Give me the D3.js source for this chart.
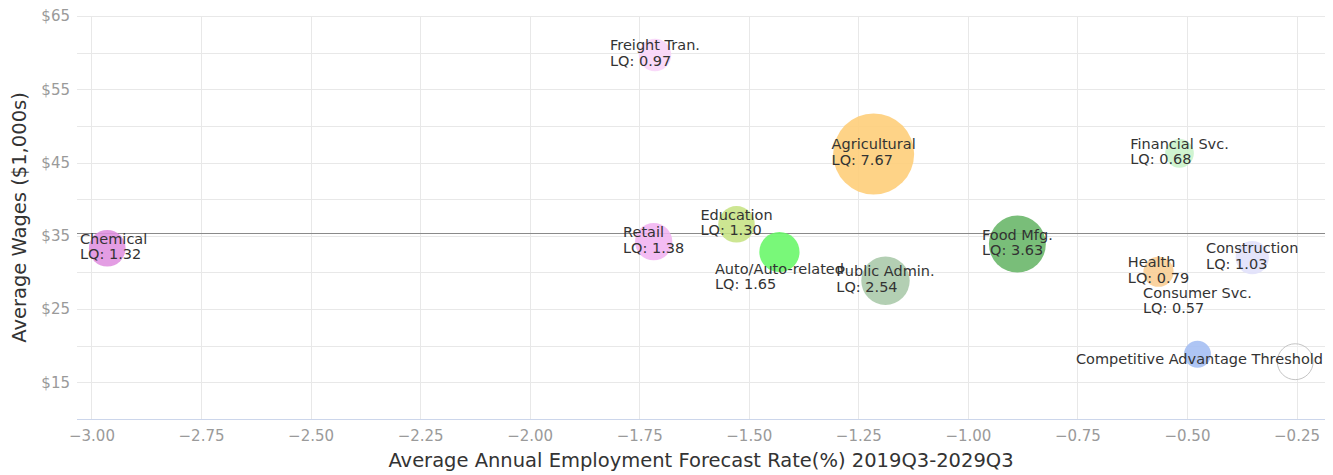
<!DOCTYPE html>
<html><head><meta charset="utf-8">
<script src="https://cdn.jsdelivr.net/npm/d3@7"></script>
<style>body{margin:0;background:#fff;overflow:hidden;} svg{display:block;}</style>
</head><body><svg id="c" width="1333" height="475"></svg>
<script>
// ---- data ----
const industries = ["Freight Tran.", "Chemical", "Retail", "Education", "Auto/Auto-related", "Public Admin.", "Food Mfg.", "Agricultural", "Financial Svc.", "Health", "Construction", "Consumer Svc."];
const growthRates = [-1.714, -2.964, -1.717, -1.528, -1.430, -1.188, -0.887, -1.215, -0.517, -0.565, -0.351, -0.476];
const avgWages = [59.68, 33.30, 34.20, 36.57, 32.79, 28.88, 33.88, 46.17, 46.26, 30.10, 32.01, 18.83];
const lqValues = [0.97, 1.32, 1.38, 1.30, 1.65, 2.54, 3.63, 7.67, 0.68, 0.79, 1.03, 0.57];
const bubbleColors = ["#f8d4f8", "#df8fdf", "#f1b3f1", "#c6e283", "#66f766", "#a8c8a8", "#66b566", "#fecd76", "#c9f3c9", "#f9cd93", "#e0e0fb", "#a3bdf2"];
const thresholdName = "Competitive Advantage Threshold";
const thresholdGrowth = -0.253;
const thresholdWage = 17.82;
const thresholdLQ = 1.25;
const averageWage = 35.44;
const xTickValues = [-3.00, -2.75, -2.50, -2.25, -2.00, -1.75, -1.50, -1.25, -1.00, -0.75, -0.50, -0.25];
const yTickValues = [15, 25, 35, 45, 55, 65];
const yGridValues = [15, 20, 25, 30, 35, 40, 45, 50, 55, 60, 65];
const xTitle = "Average Annual Employment Forecast Rate(%) 2019Q3-2029Q3";
const yTitle = "Average Wages ($1,000s)";

// ---- layout ----
const plot = {left: 77, right: 1325, top: 16, bottom: 419};
const labelShift = {"Auto/Auto-related": 26, "Consumer Svc.": -52};
const svg = d3.select("#c");
const x = d3.scaleLinear().domain([-3.033, -0.185]).range([plot.left, plot.right]);
const y = d3.scaleLinear().domain([10, 65]).range([plot.bottom, plot.top]);
const area = d3.scaleLinear().domain([0.57, 7.67]).range([13.5 * 13.5, 40.5 * 40.5]);
const rad = z => Math.sqrt(area(z));
const FONT = "'DejaVu Sans', sans-serif";

// grid
svg.append("g").selectAll("line").data(yGridValues).join("line")
  .attr("x1", plot.left).attr("x2", plot.right)
  .attr("y1", d => Math.round(y(d)) + 0.5).attr("y2", d => Math.round(y(d)) + 0.5)
  .attr("stroke", "#e8e8e8").attr("stroke-width", 1);
svg.append("g").selectAll("line").data(xTickValues).join("line")
  .attr("x1", d => Math.round(x(d)) + 0.5).attr("x2", d => Math.round(x(d)) + 0.5)
  .attr("y1", plot.top).attr("y2", plot.bottom)
  .attr("stroke", "#e8e8e8").attr("stroke-width", 1);

// x axis
const xAxis = d3.axisBottom(x).tickValues(xTickValues).tickFormat(d3.format(".2f")).tickSize(0).tickPadding(8);
const gx = svg.append("g").attr("transform", `translate(0,${plot.bottom})`).call(xAxis);
gx.select(".domain").attr("stroke", "#ccd6eb").attr("d", `M${plot.left},0.5H${plot.right}`);
gx.selectAll("text").attr("font-family", FONT).attr("font-size", 15).attr("fill", "#9a9a9a").attr("dy", "0.95em");

// y axis
const yAxis = d3.axisLeft(y).tickValues(yTickValues).tickFormat(d => "$" + d).tickSize(0).tickPadding(7);
const gy = svg.append("g").attr("transform", `translate(${plot.left},0)`).call(yAxis);
gy.select(".domain").remove();
gy.selectAll("text").attr("font-family", FONT).attr("font-size", 15).attr("fill", "#9a9a9a");

// average wage line
svg.append("line")
  .attr("x1", plot.left).attr("x2", plot.right)
  .attr("y1", Math.round(y(averageWage)) + 0.5).attr("y2", Math.round(y(averageWage)) + 0.5)
  .attr("stroke", "#8a8a8a").attr("stroke-width", 1);

// axis titles
svg.append("text").attr("x", (plot.left + plot.right) / 2).attr("y", 467)
  .attr("text-anchor", "middle").attr("font-family", FONT).attr("font-size", 19.5)
  .attr("fill", "#333").text(xTitle);
svg.append("text").attr("transform", `translate(26,${(plot.top + plot.bottom) / 2}) rotate(-90)`)
  .attr("text-anchor", "middle").attr("font-family", FONT).attr("font-size", 19.5)
  .attr("fill", "#333").text(yTitle);

// bubbles
const points = industries.map((name, i) => ({name, gx: growthRates[i], wy: avgWages[i], lq: lqValues[i], color: bubbleColors[i]}));
const bubbles = svg.append("g");
bubbles.selectAll("circle").data(points).join("circle")
  .attr("cx", d => x(d.gx)).attr("cy", d => y(d.wy)).attr("r", d => rad(d.lq))
  .attr("fill", d => d.color).attr("fill-opacity", 0.88);
bubbles.append("circle")
  .attr("cx", x(thresholdGrowth)).attr("cy", y(thresholdWage)).attr("r", rad(thresholdLQ))
  .attr("fill", "#fff").attr("fill-opacity", 0.3).attr("stroke", "#c4c4c4").attr("stroke-width", 1);

// labels
const labels = svg.append("g").attr("font-family", FONT).attr("font-size", 14.5).attr("fill", "#333");
function placeLabel(lines, cx, cy) {
  const t = labels.append("text");
  lines.forEach((s, i) => t.append("tspan").attr("x", 0).attr("y", 0).attr("dy", i * 15.5).text(s));
  const w = t.node().getBBox().width;
  let left = cx - w / 2;
  left = Math.min(left, plot.right - w - 2);
  left = Math.max(left, plot.left + 3);
  const base = lines.length > 1 ? cy - 4.5 : cy + 2.5;
  t.attr("transform", `translate(${left},${base})`);
}
points.forEach(p => {
  placeLabel([p.name, "LQ: " + p.lq.toFixed(2)], x(p.gx), y(p.wy) + (labelShift[p.name] || 0));
});
placeLabel([thresholdName], x(thresholdGrowth), y(thresholdWage));
</script>
</body></html>
